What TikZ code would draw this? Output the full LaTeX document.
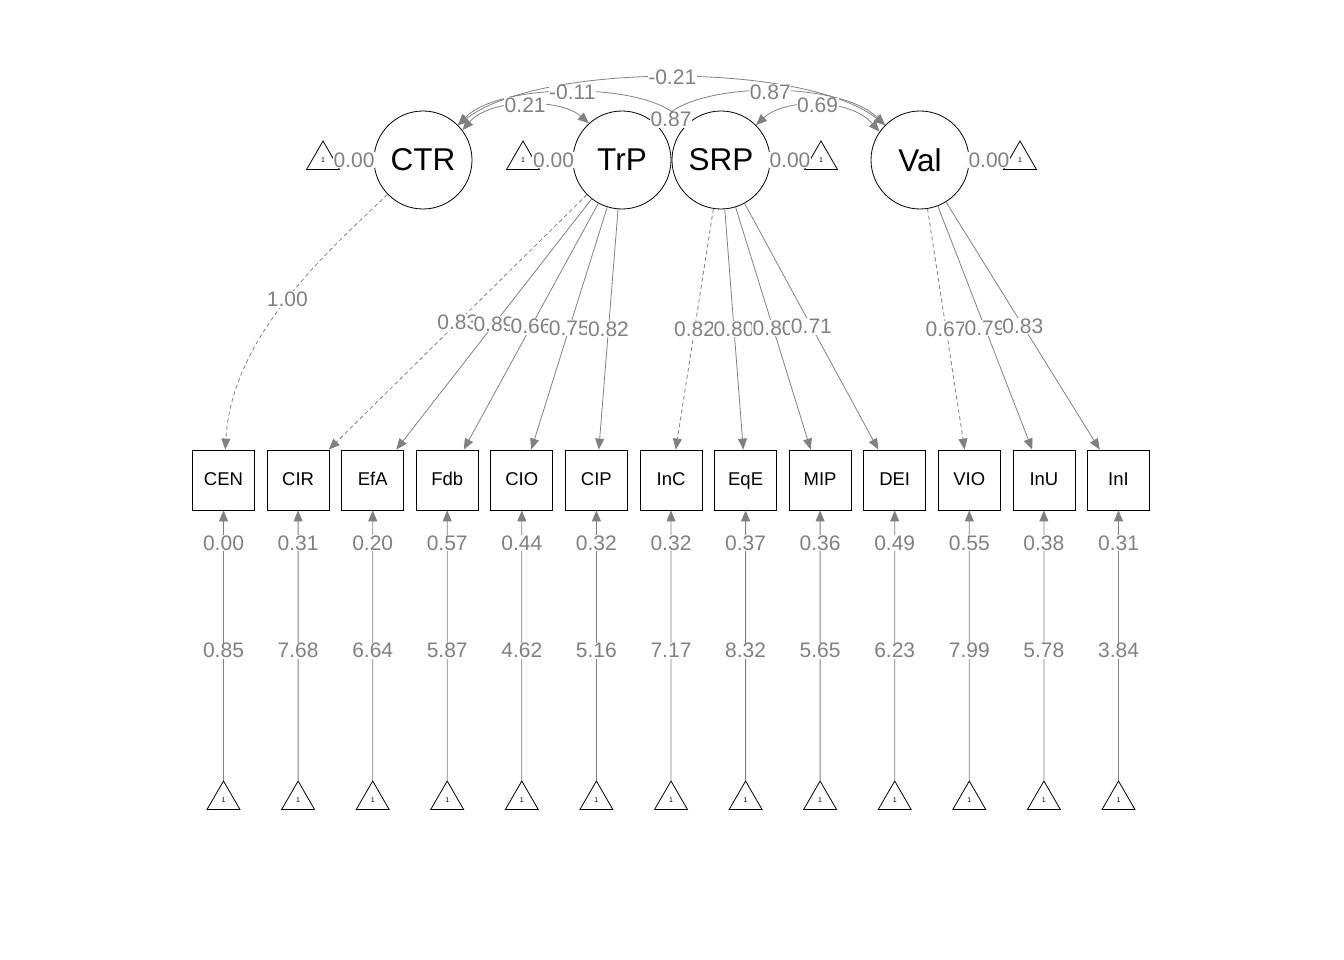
\documentclass[tikz,border=0pt]{standalone}
\usepackage{fontspec}
\setmainfont{Liberation Sans}
\usetikzlibrary{arrows.meta,shapes.geometric}
\definecolor{edgegray}{RGB}{128,128,128}
\tikzset{
  semtip/.tip={Triangle[length=11pt,width=9pt]},
  latent/.style={circle,draw=black,line width=0.8pt,fill=white,minimum size=98pt,inner sep=0pt,font=\fontsize{31.5}{36}\selectfont},
  manifest/.style={rectangle,draw=black,line width=0.8pt,fill=white,minimum width=62pt,minimum height=60pt,inner sep=0pt,text height=13.5pt,text depth=3.5pt,font=\fontsize{18.5}{22}\selectfont},
  intercept/.style={regular polygon,regular polygon sides=3,draw=black,line width=0.8pt,minimum size=38pt,inner sep=0pt,font=\fontsize{7}{8}\selectfont},
  load/.style={draw=edgegray,line width=0.8pt,-semtip},
  dload/.style={load,dash pattern=on 4pt off 3pt},
  cov/.style={draw=edgegray,line width=0.8pt,semtip-semtip},
  lbl/.style={fill=white,inner sep=0.6pt,text=edgegray,font=\fontsize{21}{24}\selectfont}
}
\begin{document}
\begin{tikzpicture}[x=1pt,y=-1pt]
\useasboundingbox (0,0) rectangle (1344,960);
% latent variables
\node[latent] (CTR) at (423,160) {CTR};
\node[latent] (TrP) at (622,160) {TrP};
\node[latent] (SRP) at (721,160) {SRP};
\node[latent] (Val) at (920,160) {Val};
% latent intercept triangles
\node[intercept] (iCTR) at (323,160) {1};
\node[intercept] (iTrP) at (523,160) {1};
\node[intercept] (iSRP) at (821,160) {1};
\node[intercept] (iVal) at (1020,160) {1};
\draw[load] (iCTR) -- (CTR) node[lbl,pos=0.5]{0.00};
\draw[load] (iTrP) -- (TrP) node[lbl,pos=0.5]{0.00};
\draw[load] (iSRP) -- (SRP) node[lbl,pos=0.5]{0.00};
\draw[load] (iVal) -- (Val) node[lbl,pos=0.5]{0.00};
% manifest variables with intercepts
\foreach \n/\x/\r/\i in {CEN/223.5/0.00/0.85, CIR/298.1/0.31/7.68, EfA/372.7/0.20/6.64,
  Fdb/447.2/0.57/5.87, CIO/521.8/0.44/4.62, CIP/596.4/0.32/5.16, InC/671/0.32/7.17,
  EqE/745.6/0.37/8.32, MIP/820.1/0.36/5.65, DEI/894.7/0.49/6.23, VIO/969.3/0.55/7.99,
  InU/1043.9/0.38/5.78, InI/1118.5/0.31/3.84}{
  \node[manifest] (\n) at (\x,480) {\n};
  \node[intercept] (t\n) at (\x,800) {1};
  \draw[load] (t\n) -- (\n) node[lbl,pos=0.48]{\i} node[lbl,pos=0.878]{\r};
}
% loadings
\draw[dload] (CTR) .. controls (330,250) and (232,334) .. (CEN) node[lbl,pos=0.5]{1.00};
\draw[dload] (TrP) -- (CIR) node[lbl,pos=0.5]{0.83};
\draw[load] (TrP) -- (EfA) node[lbl,pos=0.5]{0.89};
\draw[load] (TrP) -- (Fdb) node[lbl,pos=0.5]{0.66};
\draw[load] (TrP) -- (CIO) node[lbl,pos=0.5]{0.75};
\draw[load] (TrP) -- (CIP) node[lbl,pos=0.5]{0.82};
\draw[dload] (SRP) -- (InC) node[lbl,pos=0.5]{0.82};
\draw[load] (SRP) -- (EqE) node[lbl,pos=0.5]{0.80};
\draw[load] (SRP) -- (MIP) node[lbl,pos=0.5]{0.80};
\draw[load] (SRP) -- (DEI) node[lbl,pos=0.5]{0.71};
\draw[dload] (Val) -- (VIO) node[lbl,pos=0.5]{0.67};
\draw[load] (Val) -- (InU) node[lbl,pos=0.5]{0.79};
\draw[load] (Val) -- (InI) node[lbl,pos=0.5]{0.83};
% covariances
\draw[cov] (CTR.37) .. controls (490,98) and (560,98) .. (TrP.132) coordinate[pos=0.5] (m1);
\draw[cov] (CTR.45) .. controls (500,82) and (645,82) .. (SRP.135) coordinate[pos=0.5] (m2);
\draw[cov] (CTR.45) .. controls (540,62) and (805,62) .. (Val.135) coordinate[pos=0.5] (m3);
\draw[cov] (TrP.45) .. controls (700,81) and (840,81) .. (Val.135) coordinate[pos=0.5] (m5);
\draw[cov] (SRP.45) .. controls (785,98) and (850,98) .. (Val.145) coordinate[pos=0.5] (m6);
\draw[cov] (TrP.45) .. controls (662,118) and (680,118) .. (SRP.135) coordinate[pos=0.5] (m4);
\node[lbl] at (m3) {-0.21};
\node[lbl] at (m2) {-0.11};
\node[lbl] at (m1) {0.21};
\node[lbl] at (m5) {0.87};
\node[lbl] at (m6) {0.69};
\node[lbl] at (m4) {0.87};
\end{tikzpicture}
\end{document}
